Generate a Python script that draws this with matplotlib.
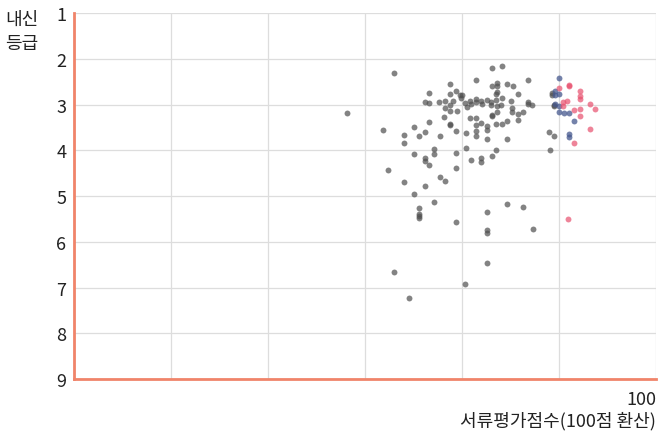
import matplotlib
matplotlib.use('Agg')
import matplotlib.pyplot as plt

plt.rcParams['font.family'] = ['Noto Sans CJK KR', 'DejaVu Sans']

# 서류평가점수 (x) / 내신 등급 (y)
gray_x = [72.9, 68.1, 78.7, 81.4, 83.1, 76.6, 76.1, 76.6, 78.7, 79.3, 79.8, 79.9, 78.2, 80.3,
          80.8, 81.4, 81.4, 81.9, 82.5, 83.0, 83.5, 83.5, 78.2, 78.7, 79.4, 78.1, 76.6, 78.7,
          78.7, 71.8, 75.0, 74.0, 74.0, 75.5, 76.1, 77.7, 79.3, 80.4, 80.8, 81.4, 81.4, 81.9,
          82.5, 82.5, 81.4, 81.4, 82.5, 83.5, 75.0, 76.1, 76.1, 76.6, 77.1, 77.1, 79.3, 80.4,
          80.9, 81.9, 81.9, 83.1, 83.5, 72.3, 74.0, 76.1, 77.7, 78.2, 79.3, 75.0, 77.1, 75.5,
          75.5, 75.5, 75.5, 79.3, 82.5, 84.6, 86.2, 82.5, 82.5, 87.3, 82.5, 72.9, 80.3, 74.5,
          84.1, 86.8, 83.1, 83.6, 83.6, 84.6, 85.2, 85.7, 83.6, 84.1, 85.1, 85.1, 85.7, 85.7,
          86.3, 86.8, 86.8, 87.2, 83.6, 83.1, 83.1, 83.6, 84.6, 84.1, 84.6, 88.9, 89.4, 89.0,
          89.4, 89.4, 89.2, 89.2, 80.0, 80.9, 82.0, 79.0, 84.0, 85.0, 77.6, 78.7, 80.5, 82.9]
gray_y = [2.31, 3.19, 2.55, 2.46, 2.20, 2.75, 2.95, 2.97, 2.77, 2.70, 2.79, 2.86, 2.92, 2.97,
          2.93, 2.88, 2.95, 2.92, 2.91, 2.95, 2.77, 2.91, 3.08, 3.14, 3.14, 3.27, 3.38, 3.43,
          3.45, 3.56, 3.49, 3.67, 3.84, 3.69, 3.60, 3.69, 3.58, 3.62, 3.30, 3.30, 3.45, 3.40,
          3.47, 3.56, 3.58, 3.69, 3.75, 3.43, 4.08, 4.17, 4.24, 4.32, 3.97, 4.08, 4.06, 3.95,
          4.21, 4.17, 4.26, 4.13, 3.99, 4.43, 4.69, 4.78, 4.58, 4.67, 4.39, 4.96, 5.13, 5.26,
          5.39, 5.44, 5.48, 5.57, 5.35, 5.17, 5.24, 5.74, 5.81, 5.72, 6.46, 6.66, 6.92, 7.23,
          2.16, 2.46, 2.60, 2.53, 2.59, 2.55, 2.60, 2.77, 2.73, 2.86, 3.08, 3.16, 3.21, 3.34,
          3.16, 2.95, 2.99, 3.01, 3.03, 3.23, 3.25, 3.16, 3.36, 3.43, 3.75, 3.61, 3.69, 3.99,
          3.01, 3.03, 2.75, 2.80, 2.80, 2.98, 2.98, 2.92, 3.00, 2.93, 2.95, 3.00, 3.05, 3.02]

blue_x = [90.0, 89.5, 90.0, 89.5, 90.0, 90.0, 91.0, 91.5, 91.0, 91.0, 90.5, 89.6]
blue_y = [2.42, 2.70, 2.77, 2.79, 3.03, 3.16, 3.19, 3.36, 3.64, 3.71, 3.18, 2.98]

red_x = [91.0, 91.0, 90.0, 90.4, 90.4, 92.1, 92.1, 92.1, 93.2, 93.7, 92.1, 91.5, 92.1, 93.2,
         91.5, 90.9, 90.8]
red_y = [2.57, 2.60, 2.64, 2.95, 3.03, 2.70, 2.81, 2.88, 2.99, 3.10, 3.10, 3.12, 3.25, 3.54,
         3.84, 5.50, 2.92]

x_ticks = [40, 50, 60, 70, 80, 90, 100]
y_ticks = [1, 2, 3, 4, 5, 6, 7, 8, 9]

fig = plt.figure(figsize=(6.65, 4.39), dpi=100)
ax = fig.add_axes([0.112, 0.134, 0.875, 0.834])

ax.scatter(gray_x, gray_y, s=18, color='#4f4f4f', alpha=0.7, linewidths=0, zorder=3)
ax.scatter(blue_x, blue_y, s=18, color='#46588e', alpha=0.75, linewidths=0, zorder=4)
ax.scatter(red_x, red_y, s=18, color='#e8506e', alpha=0.7, linewidths=0, zorder=4)

ax.set_xlim(40, 100)
ax.set_ylim(9, 1)
ax.set_xticks(x_ticks)
ax.set_xticklabels([''] * (len(x_ticks) - 1) + ['100'])
for lab in ax.get_xticklabels():
    lab.set_ha('right')
ax.set_yticks(y_ticks)
ax.set_yticklabels([str(v) for v in y_ticks])
ax.tick_params(axis='both', length=0, labelsize=13, colors='#222222')
ax.tick_params(axis='y', pad=6)
ax.tick_params(axis='x', pad=8)

ax.grid(True, color='#dddddd', linewidth=0.9, zorder=0)
for side in ['top', 'right']:
    ax.spines[side].set_visible(False)
for side in ['left', 'bottom']:
    ax.spines[side].set_color('#f0846a')
    ax.spines[side].set_linewidth(2)
    ax.spines[side].set_zorder(5)

fig.text(0.008, 0.975, '내신\n등급', fontsize=13, ha='left', va='top',
         linespacing=1.4, color='#222222')
fig.text(0.986, 0.02, '서류평가점수(100점 환산)', fontsize=13, ha='right', va='bottom',
         color='#222222')

fig.savefig('out.png', dpi=100)
